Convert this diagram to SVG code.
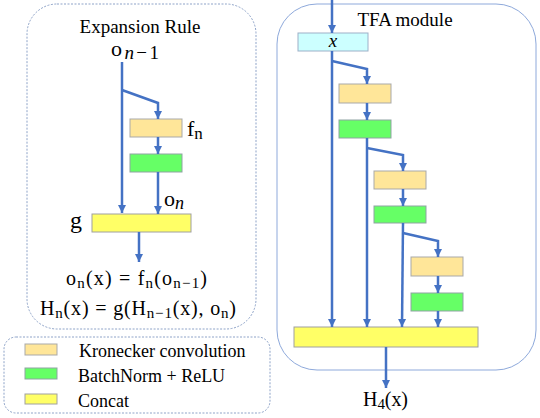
<svg xmlns="http://www.w3.org/2000/svg" width="540" height="418" viewBox="0 0 540 418">
<style>
text{font-family:'Liberation Serif','DejaVu Serif',serif;fill:#000}
.ln{fill:none;stroke:#4472C4;stroke-width:2.5}
.kr{fill:#FFE699;stroke:#A9A9A9;stroke-width:1}
.bn{fill:#66FF66;stroke:#8FA3A3;stroke-width:1}
.cc{fill:#FFFF66;stroke:#A0A0A0;stroke-width:1}
.in{fill:#CCFFFF;stroke:#9DB0C8;stroke-width:1}
.dash{fill:none;stroke:#8EA3C8;stroke-width:1;stroke-dasharray:2 1.5}
</style>
<defs>
<marker id="ah" markerUnits="userSpaceOnUse" markerWidth="10" markerHeight="10" viewBox="0 0 10 10" refX="8" refY="5" orient="auto">
<path d="M0,1 L8,5 L0,9 z" fill="#4472C4"/>
</marker>
</defs>
<rect width="540" height="418" fill="#fff"/>
<g id="panel-expansion">
<rect class="dash" x="27" y="4" width="229" height="325" rx="30" ry="30"/>
<text x="140" y="33" font-size="19" text-anchor="middle">Expansion Rule</text>
<text x="111" y="56" font-size="22" textLength="48" lengthAdjust="spacing">o<tspan font-style="italic" font-size="19" dy="3">n</tspan><tspan font-size="19">−1</tspan></text>
</g>
<g id="er-fn">
<rect class="kr" x="130" y="119" width="52" height="18"/>
<text x="187" y="136" font-size="22">f<tspan font-size="17" dy="3">n</tspan></text>
</g>
<g id="er-bn"><rect class="bn" x="130" y="154" width="52" height="18"/></g>
<g id="er-g">
<rect class="cc" x="92" y="214" width="99" height="18"/>
<text x="70" y="228" font-size="24">g</text>
</g>
<text x="164" y="206" font-size="22">o<tspan font-style="italic" font-size="18" dy="3">n</tspan></text>
<g id="er-formulas">
<text x="66" y="285" font-size="20" textLength="141" lengthAdjust="spacing">o<tspan font-size="15" dy="3">n</tspan><tspan dy="-3">(x) = f</tspan><tspan font-size="15" dy="3">n</tspan><tspan dy="-3">(o</tspan><tspan font-size="15" dy="3">n−1</tspan><tspan dy="-3">)</tspan></text>
<text x="40" y="315" font-size="20" textLength="196" lengthAdjust="spacing">H<tspan font-size="15" dy="3">n</tspan><tspan dy="-3">(x) = g(H</tspan><tspan font-size="15" dy="3">n−1</tspan><tspan dy="-3">(x), o</tspan><tspan font-size="15" dy="3">n</tspan><tspan dy="-3">)</tspan></text>
</g>
<g id="legend">
<rect class="dash" x="4" y="337" width="266" height="76" rx="12" ry="12"/>
<rect class="kr" x="25" y="344" width="32" height="11"/>
<rect class="bn" x="25" y="368" width="32" height="11"/>
<rect class="cc" x="25" y="394" width="32" height="10"/>
<text x="79" y="357" font-size="18">Kronecker convolution</text>
<text x="78" y="382" font-size="18">BatchNorm + ReLU</text>
<text x="78" y="407" font-size="18">Concat</text>
</g>
<g id="panel-tfa">
<rect x="277" y="4" width="259" height="366" rx="40" ry="40" fill="none" stroke="#8EA9DB" stroke-width="1"/>
<text x="405" y="26" font-size="19" text-anchor="middle">TFA module</text>
</g>
<g id="tfa-x">
<rect class="in" x="298" y="33" width="70" height="18"/>
<text x="333" y="47" font-size="19" font-style="italic" text-anchor="middle">x</text>
</g>
<g id="tfa-kr1"><rect class="kr" x="339" y="84" width="52" height="19"/></g>
<g id="tfa-bn1"><rect class="bn" x="339" y="120" width="52" height="18"/></g>
<g id="tfa-kr2"><rect class="kr" x="374" y="171" width="52" height="18"/></g>
<g id="tfa-bn2"><rect class="bn" x="374" y="206" width="52" height="17"/></g>
<g id="tfa-kr3"><rect class="kr" x="411" y="257" width="52" height="19"/></g>
<g id="tfa-bn3"><rect class="bn" x="411" y="293" width="52" height="18"/></g>
<g id="tfa-concat"><rect class="cc" x="294" y="327" width="184" height="20"/></g>
<text x="363" y="406" font-size="20" textLength="45" lengthAdjust="spacing">H<tspan font-size="15" dy="3">4</tspan><tspan dy="-3">(x)</tspan></text>
<g id="connectors">
<path class="ln" d="M122,62 V213" marker-end="url(#ah)"/>
<path class="ln" d="M122,90 L158,103 V119" marker-end="url(#ah)"/>
<path class="ln" d="M158,137 V154" marker-end="url(#ah)"/>
<path class="ln" d="M158,172 V214" marker-end="url(#ah)"/>
<path class="ln" d="M139,232 V262" marker-end="url(#ah)"/>
<path class="ln" d="M332,0 V33" marker-end="url(#ah)"/>
<path class="ln" d="M332,51 V327" marker-end="url(#ah)"/>
<path class="ln" d="M332,61 L367,69 V84" marker-end="url(#ah)"/>
<path class="ln" d="M367,103 V120" marker-end="url(#ah)"/>
<path class="ln" d="M367,138 V327" marker-end="url(#ah)"/>
<path class="ln" d="M367,148 L403,155 V171" marker-end="url(#ah)"/>
<path class="ln" d="M403,189 V206" marker-end="url(#ah)"/>
<path class="ln" d="M403,223 L402,327" marker-end="url(#ah)"/>
<path class="ln" d="M403,233 L438,241 V257" marker-end="url(#ah)"/>
<path class="ln" d="M438,276 V293" marker-end="url(#ah)"/>
<path class="ln" d="M438,311 V327" marker-end="url(#ah)"/>
<path class="ln" d="M386,347 V388" marker-end="url(#ah)"/>
</g>
</svg>
